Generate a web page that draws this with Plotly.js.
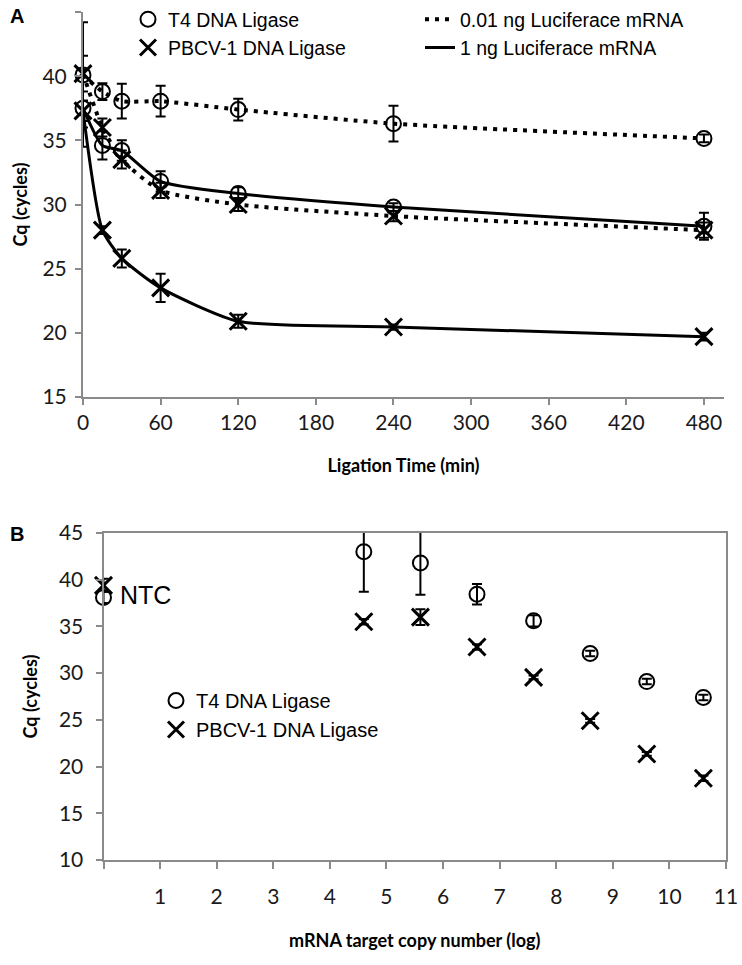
<!DOCTYPE html>
<html><head><meta charset="utf-8">
<script src="https://cdn.plot.ly/plotly-3.0.1.min.js"></script>
<style>html,body{margin:0;padding:0;background:#fff}#chart{width:742px;height:965px}</style>
</head><body><div id="chart"></div>
<script>
// ---- Panel A: Cq vs ligation time ----
const timeMin   = [0, 15, 30, 60, 120, 240, 480];
const t4Low     = [40.1, 38.8, 38.05, 38.05, 37.4, 36.3, 35.15];   // T4, 0.01 ng
const t4LowErr  = [4.1, 0.65, 1.35, 1.2, 0.85, 1.4, 0.3];
const t4High    = [37.5, 34.6, 34.2, 31.8, 30.85, 29.8, 28.3];      // T4, 1 ng
const t4HighErr = [3.0, 1.1, 0.8, 0.8, 0.5, 0.3, 1.05];
const pbLow     = [40.2, 36.0, 33.5, 31.1, 30.0, 29.1, 28.0];       // PBCV-1, 0.01 ng
const pbLowErr  = [1.4, 0.7, 0.7, 0.6, 0.5, 0.4, 0.6];
const pbHigh    = [37.3, 28.0, 25.8, 23.5, 20.9, 20.45, 19.7];      // PBCV-1, 1 ng
const pbHighErr = [0.8, 0.3, 0.7, 1.1, 0.5, 0.2, 0.3];
const timeTicks = [0, 60, 120, 180, 240, 300, 360, 420, 480];

// ---- Panel B: Cq vs log copy number ----
const logCopies = [0, 4.6, 5.6, 6.6, 7.6, 8.6, 9.6, 10.6];
const t4Cq      = [38.1, 43.0, 41.8, 38.45, 35.6, 32.1, 29.1, 27.4];
const t4CqErr   = [0.6, 4.3, 3.4, 1.1, 0.6, 0.3, 0.3, 0.3];
const pbCq      = [39.4, 35.5, 36.0, 32.8, 29.55, 24.9, 21.35, 18.75];
const pbCqErr   = [0.7, 0.3, 0.85, 0.3, 0.2, 0.2, 0.2, 0.3];
const logTickVals = [0,1,2,3,4,5,6,7,8,9,10,11];
const logTickText = ['','1','2','3','4','5','6','7','8','9','10','11'];

const legendNames = ['T4 DNA Ligase', 'PBCV-1 DNA Ligase'];
const lineNames = ['0.01 ng Luciferace mRNA', '1 ng Luciferace mRNA'];

const W = 742, H = 965;
const AX = '#8a8a8a';
const circ = {symbol:'circle-open', size:15, color:'#000', line:{width:2, color:'#000'}};
const cross = {symbol:'x-thin-open', size:17, color:'#000', line:{width:3, color:'#000'}};
const dotLine = {color:'#000', width:4, dash:'4px,6px', shape:'spline', smoothing:0.6};
const solidLine = {color:'#000', width:3, shape:'spline', smoothing:0.6};
function eb(arr){ return {type:'data', array:arr, visible:true, color:'#000', thickness:2, width:5}; }

const traces = [
  {x:timeMin, y:t4Low,  error_y:eb(t4LowErr),  mode:'lines+markers', marker:circ,  line:dotLine,   cliponaxis:false, xaxis:'x', yaxis:'y', showlegend:false, name:'T4 0.01 ng'},
  {x:timeMin, y:pbLow,  error_y:eb(pbLowErr),  mode:'lines+markers', marker:cross, line:dotLine,   cliponaxis:false, xaxis:'x', yaxis:'y', showlegend:false, name:'PBCV-1 0.01 ng'},
  {x:timeMin, y:t4High, error_y:eb(t4HighErr), mode:'lines+markers', marker:circ,  line:solidLine, cliponaxis:false, xaxis:'x', yaxis:'y', showlegend:false, name:'T4 1 ng'},
  {x:timeMin, y:pbHigh, error_y:eb(pbHighErr), mode:'lines+markers', marker:cross, line:solidLine, cliponaxis:false, xaxis:'x', yaxis:'y', showlegend:false, name:'PBCV-1 1 ng'},
  // legend entries panel A
  {x:[null], y:[null], mode:'markers', marker:circ,  name:legendNames[0], legend:'legend',  xaxis:'x', yaxis:'y'},
  {x:[null], y:[null], mode:'markers', marker:cross, name:legendNames[1], legend:'legend',  xaxis:'x', yaxis:'y'},
  {x:[null], y:[null], mode:'lines', line:{color:'#000', width:4, dash:'4px,6px'}, name:lineNames[0], legend:'legend2', xaxis:'x', yaxis:'y'},
  {x:[null], y:[null], mode:'lines', line:{color:'#000', width:3}, name:lineNames[1], legend:'legend2', xaxis:'x', yaxis:'y'},
  // panel B
  {x:logCopies, y:t4Cq, error_y:eb(t4CqErr), mode:'markers', marker:circ,  cliponaxis:false, name:legendNames[0], legend:'legend3', xaxis:'x2', yaxis:'y2'},
  {x:logCopies, y:pbCq, error_y:eb(pbCqErr), mode:'markers', marker:cross, cliponaxis:false, name:legendNames[1], legend:'legend3', xaxis:'x2', yaxis:'y2'}
];

const tickFont = {family:'Lato, "Open Sans", sans-serif', size:21, color:'#1a1a1a'};
const titleFont = {family:'Lato, "Open Sans", sans-serif', size:18, color:'#000', weight:'bold'};
const legFont = {family:'"Liberation Sans", Arial, sans-serif', size:19.5, color:'#000'};

const layout = {
  width:W, height:H, margin:{l:0,r:0,t:0,b:0},
  paper_bgcolor:'#fff', plot_bgcolor:'#fff',
  xaxis:{domain:[83/W, 724/W], range:[0, 495.5], tickvals:timeTicks, showgrid:false, zeroline:false,
         showline:true, linecolor:AX, linewidth:2, ticks:'outside', ticklen:6, tickcolor:AX, tickwidth:2,
         tickfont:tickFont, ticklabelstandoff:0, automargin:false,
         title:{text:'Ligation Time (min)', font:titleFont, standoff:26}, anchor:'y'},
  yaxis:{domain:[1-397/H, 1-12/H], range:[15,45], dtick:5, showgrid:false, zeroline:false,
         showline:true, linecolor:AX, linewidth:2, ticks:'outside', ticklen:6, tickcolor:AX, tickwidth:2,
         tickfont:tickFont, ticklabelstandoff:4, automargin:false,
         title:{text:'Cq (cycles)', font:titleFont, standoff:10}, anchor:'x'},
  xaxis2:{domain:[103.5/W, 726/W], range:[0,11], tickvals:logTickVals, ticktext:logTickText, showgrid:false, zeroline:false,
         showline:true, mirror:true, linecolor:AX, linewidth:2, ticks:'outside', ticklen:7, tickcolor:AX, tickwidth:2,
         tickfont:tickFont, ticklabelstandoff:10, automargin:false,
         title:{text:'mRNA target copy number (log)', font:titleFont, standoff:27}, anchor:'y2'},
  yaxis2:{domain:[1-860/H, 1-533/H], range:[10,45], dtick:5, showgrid:false, zeroline:false,
         showline:true, mirror:true, linecolor:AX, linewidth:2, ticks:'outside', ticklen:6, tickcolor:AX, tickwidth:2,
         tickfont:tickFont, ticklabelstandoff:8, automargin:false,
         title:{text:'Cq (cycles)', font:titleFont, standoff:17}, anchor:'x2'},
  legend:{x:128/W, y:1, xanchor:'left', yanchor:'top', font:legFont, bgcolor:'rgba(0,0,0,0)', tracegroupgap:0},
  legend2:{x:420/W, y:1, xanchor:'left', yanchor:'top', font:legFont, bgcolor:'rgba(0,0,0,0)', tracegroupgap:0},
  legend3:{x:156/W, y:1-681/H, xanchor:'left', yanchor:'top', font:{family:'"Liberation Sans", Arial, sans-serif', size:20, color:'#000'}, bgcolor:'rgba(0,0,0,0)'},
  annotations:[
    {text:'<b>A</b>', xref:'paper', yref:'paper', x:8/W, y:1-16/H, xanchor:'left', yanchor:'middle', showarrow:false,
     font:{family:'"Liberation Sans", Arial, sans-serif', size:20, color:'#000'}},
    {text:'<b>B</b>', xref:'paper', yref:'paper', x:8/W, y:1-534/H, xanchor:'left', yanchor:'middle', showarrow:false,
     font:{family:'"Liberation Sans", Arial, sans-serif', size:20, color:'#000'}},
    {text:'NTC', xref:'x2', yref:'y2', x:0, y:38.4, xanchor:'left', yanchor:'middle', xshift:14, showarrow:false,
     font:{family:'"Liberation Sans", Arial, sans-serif', size:25, color:'#000'}}
  ]
};

Plotly.newPlot('chart', traces, layout, {staticPlot:true, displayModeBar:false});
</script>
</body></html>
